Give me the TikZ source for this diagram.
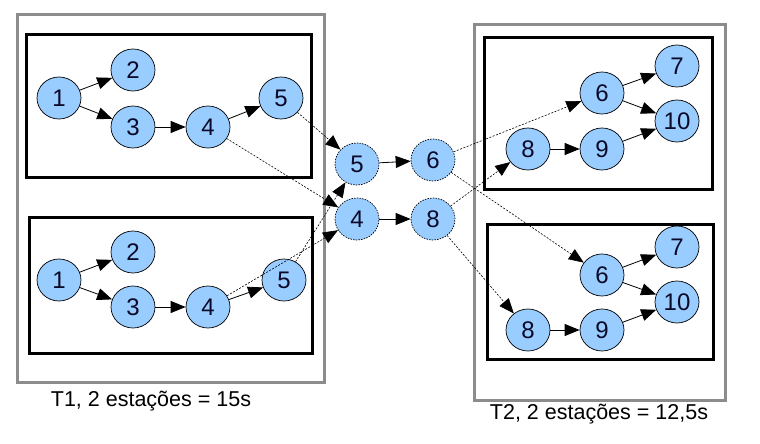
\documentclass[tikz,border=0pt]{standalone}
\usepackage{fontspec}
\setmainfont{Liberation Sans}
\usetikzlibrary{shapes.geometric,arrows.meta}
\definecolor{nodefill}{RGB}{153,204,255}
\definecolor{nodetext}{RGB}{10,10,40}
\tikzset{
  task/.style={ellipse,draw=black,line width=0.7pt,fill=nodefill,minimum width=44pt,minimum height=42pt,inner sep=0pt,font=\fontsize{24}{24}\selectfont,text=nodetext},
  ghost/.style={task,dashed,dash pattern=on 1.5pt off 1.2pt},
  arr/.style={-{Triangle[length=15pt,width=12pt]},line width=0.8pt},
  darr/.style={-{Triangle[length=15pt,width=12pt]},line width=0.6pt,dash pattern=on 2pt off 1.5pt},
  group/.style={draw=gray!90,line width=3pt},
  station/.style={draw=black,line width=3pt},
  lbl/.style={font=\fontsize{21.5}{22}\selectfont,text=black}
}
\begin{document}
\begin{tikzpicture}[x=1pt,y=-1pt]
\useasboundingbox (0,0) rectangle (760,444);
% boxes
\draw[group] (17,15) rectangle (324,382);
\draw[station] (26,35) rectangle (311,177);
\draw[station] (29,217) rectangle (312,353);
\draw[group] (474,25) rectangle (725,400);
\draw[station] (484,38) rectangle (712,189);
\draw[station] (487,224) rectangle (713,359);
% top-left station
\node[task] (a1) at (59,98) {1};
\node[task] (a2) at (133,70) {2};
\node[task] (a3) at (133,127) {3};
\node[task] (a4) at (208,127) {4};
\node[task] (a5) at (281,98) {5};
% bottom-left station
\node[task] (b1) at (59,280) {1};
\node[task] (b2) at (133,252) {2};
\node[task] (b3) at (133,307) {3};
\node[task] (b4) at (208,307) {4};
\node[task] (b5) at (284,280) {5};
% middle
\node[ghost] (m5) at (357,164) {5};
\node[ghost] (m6) at (433,160) {6};
\node[ghost] (m4) at (357,219) {4};
\node[ghost] (m8) at (433,219) {8};
% top-right station
\node[task] (c6) at (602,93) {6};
\node[task] (c7) at (677,66) {7};
\node[task] (c10) at (677,121) {10};
\node[task] (c8) at (528,149) {8};
\node[task] (c9) at (602,149) {9};
% bottom-right station
\node[task] (d6) at (602,275) {6};
\node[task] (d7) at (677,247) {7};
\node[task] (d10) at (677,302) {10};
\node[task] (d8) at (528,330) {8};
\node[task] (d9) at (602,330) {9};
% solid edges
\foreach \p in {a,b}{
  \draw[arr] (\p1) -- (\p2);
  \draw[arr] (\p1) -- (\p3);
  \draw[arr] (\p3) -- (\p4);
  \draw[arr] (\p4) -- (\p5);
}
\foreach \p in {c,d}{
  \draw[arr] (\p6) -- (\p7);
  \draw[arr] (\p6) -- (\p10);
  \draw[arr] (\p8) -- (\p9);
  \draw[arr] (\p9) -- (\p10);
}
\draw[arr] (m5) -- (m6);
\draw[arr] (m4) -- (m8);
% dashed edges
\draw[darr] (a5) -- (m5);
\draw[darr] (b5) -- (m5);
\draw[darr] (a4) -- (m4);
\draw[darr] (b4) -- (m4);
\draw[darr] (m6) -- (c6);
\draw[darr] (m6) -- (d6);
\draw[darr] (m8) -- (c8);
\draw[darr] (m8) -- (d8);
% labels
\node[lbl] (t1) at (151,401) {T1, 2 estações = 15s};
\node[lbl] (t2) at (599,414) {T2, 2 estações = 12,5s};
\end{tikzpicture}
\end{document}
